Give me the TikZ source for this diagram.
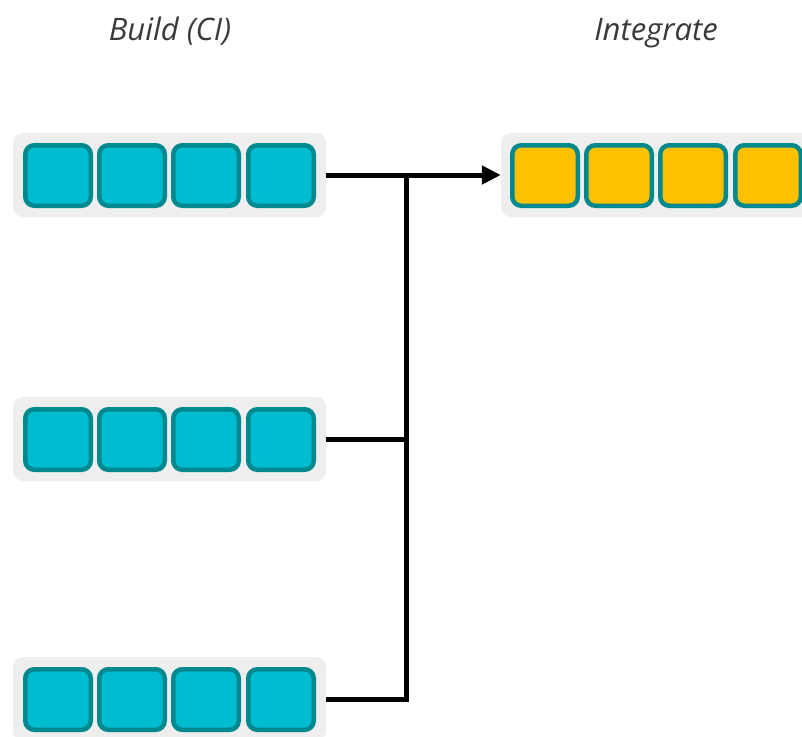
\documentclass[tikz,border=0pt]{standalone}
\usepackage{fontspec}
\setmainfont{Open Sans}
\usetikzlibrary{arrows.meta}
\definecolor{bgc}{HTML}{EEEEEE}
\definecolor{cyanc}{HTML}{00BCD0}
\definecolor{tealc}{HTML}{00888F}
\definecolor{goldc}{HTML}{FFC000}
\definecolor{txtc}{HTML}{3A3A3A}
\begin{document}
\begin{tikzpicture}[x=1pt,y=-1pt,
  grp/.style={fill=bgc, rounded corners=10pt, minimum width=313pt, minimum height=84pt, inner sep=0pt},
  blk/.style={draw=tealc, line width=4.5pt, rounded corners=9pt, minimum width=65.5pt, minimum height=60.5pt, inner sep=0pt},
  ci/.style={blk, fill=cyanc},
  intg/.style={blk, fill=goldc},
  conn/.style={line width=5pt, black},
  lbl/.style={font=\fontsize{31}{37}\selectfont\itshape, text=txtc, anchor=base, inner sep=0pt}]
\useasboundingbox (0,0) rectangle (802,736);
% labels
\node[lbl] (lbuild) at (170,40) {Build (CI)};
\node[lbl] (lint) at (656,40) {Integrate};
% groups
\node[grp] (g1) at (169.5,175) {};
\node[grp] (g2) at (169.5,439) {};
\node[grp] (g3) at (169.5,699) {};
\node[grp] (gi) at (657.5,175) {};
% blocks
\foreach \i/\x in {1/58,2/132,3/206,4/281}{
  \node[ci] (a\i) at (\x,175.5) {};
  \node[ci] (b\i) at (\x,439.5) {};
  \node[ci] (c\i) at (\x,699.5) {};
}
\foreach \i/\x in {1/545,2/619,3/693,4/768}{
  \node[intg] (d\i) at (\x,175.5) {};
}
% connectors
\coordinate (jt) at (406,175);
\draw[conn, -{Triangle[length=19pt,width=18pt]}] (g1.east) -- (gi.west);
\draw[conn] (g2.east) -| (jt);
\draw[conn] (g3.east) -| (jt);
\end{tikzpicture}
\end{document}
